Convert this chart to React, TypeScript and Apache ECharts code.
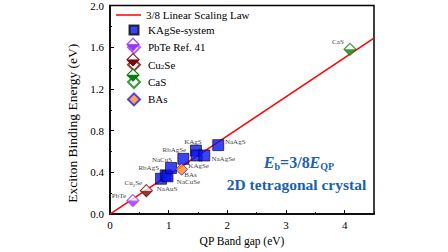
import React, { useEffect, useRef } from "react";
import * as echarts from "echarts";

const FONT = "'Liberation Serif', 'Times New Roman', serif";

// ---- data ----
const lawLine: number[][] = [
  [0, 0],
  [4.5, 1.6875],
];
const kagseNames = ["NaAuS", "RbAgS", "NaCuSe", "NaCuS", "RbAgSe", "KAgS", "KAgSe", "NaAgSe", "NaAgS"];
const kagseGap = [0.87, 0.95, 0.98, 1.04, 1.25, 1.465, 1.477, 1.607, 1.845];
const kagseEb = [0.339, 0.372, 0.362, 0.442, 0.53, 0.609, 0.562, 0.562, 0.661];
const pbteGap = [0.39];
const pbteEb = [0.13];
const cu2seGap = [0.62];
const cu2seEb = [0.225];
const casGap = [4.09];
const casEb = [1.58];
const basGap = [1.22];
const basEb = [0.43];
const xTicks = [0, 1, 2, 3, 4];
const yTicks = [0, 0.4, 0.8, 1.2, 1.6, 2.0];
const legendMarkers = ["KAgSe-system", "PbTe Ref. 41", "Cu2Se", "CaS", "BAs"];

// ---- styling ----
const COLORS: Record<string, string> = {
  "PbTe Ref. 41": "#9b30ff",
  Cu2Se: "#7a0a0a",
  CaS: "#0a7d0a",
};
const labelOffset: Record<string, number[]> = {
  NaAuS: [6, 10],
  RbAgS: [-17, -7],
  NaCuSe: [21, 6],
  NaCuS: [-9, -8],
  RbAgSe: [-9, -9],
  KAgS: [-3, -9],
  KAgSe: [2, 11],
  NaAgSe: [19, 4],
  NaAgS: [17, -3],
  BAs: [9, 5.5],
  PbTe: [-14, -5],
  Cu2Se: [-13, -7.5],
  CaS: [-12, -7],
};
const LEG_LEFT = 127;
const LEG_TOP = 23;
const LEG_ITEM = 12;
const LEG_GAP = 3.35;

const BOTTOM_TRI = "path://M0,0L20,0L10,10Z";
const SQUARE_ICON = "path://M0,0Z M12,12Z M1.5,1.5L10.5,1.5L10.5,10.5L1.5,10.5Z";

const labelRich = {
  a: { fontSize: 7, fontFamily: FONT, color: "#000", lineHeight: 9 },
  s: { fontSize: 5, fontFamily: FONT, color: "#000", lineHeight: 6, verticalAlign: "bottom" as const },
};

function pts(name: string, xs: number[], ys: number[], fmt?: string) {
  return xs.map((x, i) => ({
    name,
    value: [x, ys[i]],
    label: {
      show: true,
      position: "inside",
      offset: labelOffset[name],
      formatter: fmt ?? `{a|${name}}`,
      rich: labelRich,
    },
  }));
}

export default function App() {
  const ref = useRef<HTMLDivElement>(null);
  useEffect(() => {
    if (!ref.current) return;
    const chart = echarts.init(ref.current, undefined, { renderer: "svg" });
    const axisLabelStyle = { fontFamily: FONT, fontSize: 11, color: "#000" };
    const halfSeries = (name: string, label: string, xs: number[], ys: number[], fmt?: string) => [
      {
        name,
        type: "scatter",
        symbol: "diamond",
        symbolSize: 12,
        itemStyle: { color: "#fff", borderColor: COLORS[name], borderWidth: 1.1 },
        data: pts(label, xs, ys, fmt),
        z: 3,
      },
      {
        name: name + "-fill",
        type: "scatter",
        symbol: BOTTOM_TRI,
        symbolSize: [12, 6],
        symbolOffset: [0, 3],
        itemStyle: { color: COLORS[name] },
        silent: true,
        data: xs.map((x, i) => [x, ys[i]]),
        z: 4,
      },
    ];
    // half-filled legend icons (drawn over the legend's diamond icons)
    const legendIcons: any[] = [];
    legendMarkers.forEach((n, i) => {
      const c = COLORS[n];
      if (!c) return;
      const cx = LEG_LEFT + LEG_ITEM / 2;
      const cy = LEG_TOP + LEG_ITEM / 2 + i * (LEG_ITEM + LEG_GAP);
      const h = LEG_ITEM / 2;
      legendIcons.push(
        {
          type: "polygon",
          shape: { points: [[cx - h, cy], [cx, cy - h], [cx + h, cy], [cx, cy + h]] },
          style: { fill: "#fff", stroke: c, lineWidth: 1.1 },
          z: 100,
        },
        {
          type: "polygon",
          shape: { points: [[cx - h, cy], [cx + h, cy], [cx, cy + h]] },
          style: { fill: c, stroke: c, lineWidth: 0.5 },
          z: 101,
        }
      );
    });
    chart.setOption({
      animation: false,
      grid: {
        left: 110,
        right: 74,
        top: 4,
        bottom: 35,
        show: true,
        borderColor: "#000",
        borderWidth: 1.5,
      },
      legend: [
        {
          data: [{ name: "3/8 Linear Scaling Law", icon: "rect" }],
          orient: "vertical",
          left: 116,
          top: 9,
          itemWidth: 25,
          itemHeight: 1.5,
          padding: 0,
          itemStyle: { color: "#ff0000", borderWidth: 0 },
          textStyle: { fontFamily: FONT, fontSize: 11, color: "#000", lineHeight: 12 },
        },
        {
          data: [
            { name: "KAgSe-system", icon: SQUARE_ICON },
            { name: "PbTe Ref. 41", icon: "diamond" },
            { name: "Cu2Se", icon: "diamond" },
            { name: "CaS", icon: "diamond" },
            { name: "BAs", icon: "diamond" },
          ],
          orient: "vertical",
          left: LEG_LEFT,
          top: LEG_TOP,
          itemWidth: LEG_ITEM,
          itemHeight: LEG_ITEM,
          itemGap: LEG_GAP,
          padding: 0,
          formatter: (n: string) => (n === "Cu2Se" ? "{a|Cu}{s|2}{a|Se}" : `{a|${n}}`),
          textStyle: {
            fontFamily: FONT,
            fontSize: 11,
            color: "#000",
            lineHeight: 12,
            padding: [0, 0, 0, 3],
            rich: {
              a: { fontFamily: FONT, fontSize: 11, color: "#000", lineHeight: 12 },
              s: { fontFamily: FONT, fontSize: 7, color: "#000", lineHeight: 7, verticalAlign: "bottom" },
            },
          },
        },
      ],
      xAxis: [
        {
          type: "value",
          min: 0,
          max: 4.5,
          interval: 1,
          name: "QP Band gap (eV)",
          nameLocation: "middle",
          nameGap: 19,
          nameTextStyle: { fontFamily: FONT, fontSize: 11.5, color: "#000" },
          axisLine: { lineStyle: { color: "#000", width: 1.5 } },
          axisTick: { inside: true, length: 4, lineStyle: { color: "#000", width: 1 } },
          axisLabel: {
            ...axisLabelStyle,
            margin: 5,
            showMaxLabel: false,
            formatter: (v: number) => (xTicks.includes(v) ? String(v) : ""),
          },
          splitLine: { show: false },
        },
        {
          type: "value",
          min: 0,
          max: 4.5,
          interval: 0.5,
          position: "bottom",
          axisLine: { show: false },
          axisTick: { inside: true, length: 2, lineStyle: { color: "#000", width: 1 } },
          axisLabel: { show: false },
          splitLine: { show: false },
        },
      ],
      yAxis: {
        type: "value",
        min: 0,
        max: 2,
        interval: 0.4,
        name: "Exciton Binding Energy (eV)",
        nameLocation: "middle",
        nameGap: 23,
        nameTextStyle: { fontFamily: FONT, fontSize: 13.5, color: "#000", padding: [0, 27, 0, 0] },
        axisLine: { lineStyle: { color: "#000", width: 1.5 } },
        axisTick: { inside: true, length: 4, lineStyle: { color: "#000", width: 1 } },
        minorTick: { show: true, splitNumber: 2, length: 2, lineStyle: { color: "#000", width: 1 } },
        axisLabel: {
          ...axisLabelStyle,
          margin: 6,
          formatter: (v: number) => (yTicks.includes(v) ? v.toFixed(1) : ""),
        },
        splitLine: { show: false },
      },
      series: [
        {
          name: "3/8 Linear Scaling Law",
          type: "line",
          symbol: "none",
          data: lawLine,
          lineStyle: { color: "#ff0000", width: 1.5 },
          itemStyle: { color: "#ff0000" },
          z: 1,
        },
        {
          name: "KAgSe-system",
          type: "scatter",
          symbol: "rect",
          symbolSize: 11,
          itemStyle: { color: "#0a14f5", borderColor: "#000", borderWidth: 0.8 },
          data: kagseNames.map((n, i) => pts(n, [kagseGap[i]], [kagseEb[i]])[0]),
          z: 3,
        },
        ...halfSeries("PbTe Ref. 41", "PbTe", pbteGap, pbteEb),
        ...halfSeries("Cu2Se", "Cu2Se", cu2seGap, cu2seEb, "{a|Cu}{s|2}{a|Se}"),
        ...halfSeries("CaS", "CaS", casGap, casEb),
        {
          name: "BAs",
          type: "scatter",
          symbol: "diamond",
          symbolSize: 12,
          itemStyle: { color: "#ff8c1a", borderColor: "#1a1aff", borderWidth: 1 },
          data: pts("BAs", basGap, basEb),
          z: 4,
        },
      ],
      graphic: [
        ...legendIcons,
        {
          type: "text",
          x: 299,
          y: 162,
          style: {
            text: "{e|E}{s|b}{m|=3/8}{e|E}{s|QP}",
            align: "center",
            verticalAlign: "middle",
            rich: {
              e: { fontFamily: FONT, fontSize: 16, fontWeight: "bold", fontStyle: "italic", fill: "#1b5fae", lineHeight: 18 },
              m: { fontFamily: FONT, fontSize: 16, fontWeight: "bold", fill: "#1b5fae", lineHeight: 18 },
              s: { fontFamily: FONT, fontSize: 10, fontWeight: "bold", fill: "#1b5fae", lineHeight: 12, verticalAlign: "bottom" },
            },
          },
        },
        {
          type: "text",
          x: 296.5,
          y: 184,
          style: {
            text: "2D tetragonal crystal",
            fontFamily: FONT,
            fontSize: 15.5,
            fontWeight: "bold",
            fill: "#1b5fae",
            align: "center",
            verticalAlign: "middle",
          },
        },
      ],
    });
    return () => chart.dispose();
  }, []);
  return <div ref={ref} style={{ width: 448, height: 252, position: "absolute", left: 0, top: 0 }} />;
}
